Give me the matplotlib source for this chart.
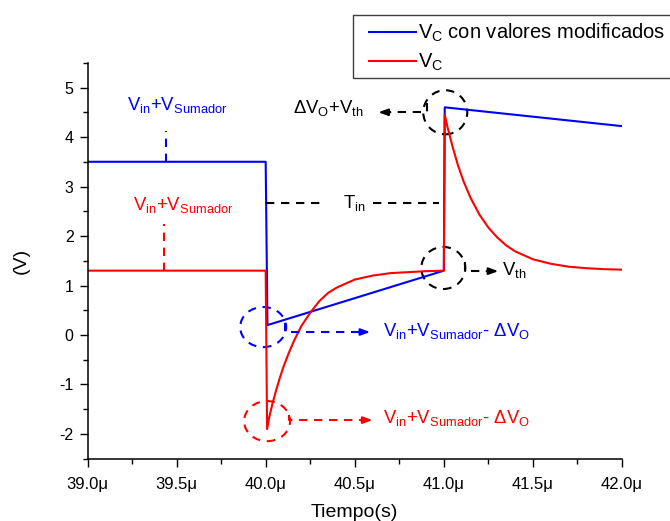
import matplotlib
matplotlib.use("Agg")
import matplotlib.pyplot as plt
from matplotlib.patches import Ellipse, Rectangle
from matplotlib.ticker import MultipleLocator, FuncFormatter

plt.rcParams["font.family"] = ["Liberation Sans", "DejaVu Sans"]
plt.rcParams["mathtext.fontset"] = "custom"
plt.rcParams["mathtext.rm"] = "Liberation Sans"
plt.rcParams["mathtext.it"] = "Liberation Sans"
plt.rcParams["mathtext.default"] = "regular"

# waveforms (time in microseconds, voltage in V)
blue_t = [39.0, 40.0, 40.01, 41.0, 41.005, 42.0]
blue_v = [3.5, 3.5, 0.2, 1.3, 4.6, 4.22]

red_t = [39.0, 40.0, 40.008, 40.02, 40.04, 40.06, 40.08, 40.10, 40.13, 40.16,
         40.20, 40.25, 40.30, 40.35, 40.40, 40.50, 40.60, 40.70, 40.80, 40.90,
         41.0, 41.005, 41.02, 41.05, 41.08, 41.11, 41.15, 41.20, 41.25, 41.30,
         41.35, 41.40, 41.50, 41.60, 41.70, 41.80, 41.90, 42.0]
red_v = [1.3, 1.3, -1.9, -1.66, -1.36, -1.10, -0.86, -0.64, -0.36, -0.11,
         0.18, 0.45, 0.68, 0.85, 0.96, 1.12, 1.20, 1.25, 1.27, 1.29,
         1.30, 4.45, 4.21, 3.79, 3.42, 3.11, 2.77, 2.43, 2.17, 1.97,
         1.81, 1.69, 1.53, 1.44, 1.38, 1.35, 1.33, 1.32]

series_labels = [r"$V_C$ con valores modificados", r"$V_C$"]
label_sum = r"$V_{in}$+$V_{Sumador}$"
label_sum_dv = r"$V_{in}$+$V_{Sumador}$- Δ$V_O$"
label_peak = r"Δ$V_O$+$V_{th}$"
label_vth = r"$V_{th}$"
label_tin = r"$T_{in}$"

BLUE = "#0000ff"
RED = "#ff0000"
DASH = (0, (4, 3.2))

fig = plt.figure(figsize=(6.7, 5.21), dpi=100)
ax = fig.add_axes([0.1306, 0.1195, 0.7978, 0.7600])

ax.plot(blue_t, blue_v, color=BLUE, lw=1.5, label=series_labels[0])
ax.plot(red_t, red_v, color=RED, lw=1.5, label=series_labels[1])

ax.set_xlim(39.0, 42.0)
ax.set_ylim(-2.5, 5.5)
ax.xaxis.set_major_locator(MultipleLocator(0.5))
ax.xaxis.set_minor_locator(MultipleLocator(0.25))
ax.yaxis.set_major_locator(MultipleLocator(1))
ax.yaxis.set_minor_locator(MultipleLocator(0.5))
ax.xaxis.set_major_formatter(FuncFormatter(lambda v, p: f"{v:.1f}μ"))
ax.yaxis.set_major_formatter(FuncFormatter(lambda v, p: f"{v:.0f}"))
ax.tick_params(which="major", direction="out", length=6, width=1)
ax.tick_params(which="minor", direction="out", length=3.5, width=1)
ax.tick_params(axis="x", which="major", pad=7, labelsize=12)
ax.tick_params(axis="y", which="major", pad=4, labelsize=11.5)
for side in ("top", "right"):
    ax.spines[side].set_visible(False)
for side in ("left", "bottom"):
    ax.spines[side].set_linewidth(1.1)

ax.set_xlabel("Tiempo(s)", fontsize=14, labelpad=9)
ax.set_ylabel("(V)", fontsize=14, labelpad=21)

fs = 13.3


def dashed(xs, ys, color):
    ax.plot(xs, ys, color=color, lw=1.5, linestyle=DASH, clip_on=False)


def head(x0, x1, y, color):
    ax.annotate("", xy=(x1, y), xytext=(x0, y),
                arrowprops=dict(arrowstyle="-|>,head_length=0.55,head_width=0.2",
                                color=color, lw=1.5, shrinkA=0, shrinkB=0))


def ring(xc, yc, w, h, color):
    ax.add_patch(Ellipse((xc, yc), w, h, fill=False, edgecolor=color,
                         lw=1.5, linestyle=DASH))


# input level markers
dashed([39.44, 39.44], [3.5, 4.12], BLUE)
ax.text(39.222, 4.55, label_sum, color=BLUE, fontsize=fs, va="baseline")
dashed([39.43, 39.43], [1.3, 2.24], RED)
ax.text(39.256, 2.53, label_sum, color=RED, fontsize=fs, va="baseline")

# input period
dashed([40.0, 40.32], [2.67, 2.67], "black")
dashed([40.60, 40.97], [2.67, 2.67], "black")
ax.text(40.435, 2.57, label_tin, color="black", fontsize=fs, va="baseline")

# peak after the jump
ring(41.008, 4.50, 0.247, 0.89, "black")
dashed([40.907, 40.907, 40.66], [4.69, 4.50, 4.50], "black")
head(40.70, 40.632, 4.50, "black")
ax.text(40.154, 4.48, label_peak, color="black", fontsize=fs, va="baseline")

# threshold
ring(40.997, 1.354, 0.247, 0.85, "black")
dashed([41.12, 41.12, 41.27], [1.47, 1.29, 1.29], "black")
head(41.24, 41.306, 1.29, "black")
ax.text(41.329, 1.21, label_vth, color="black", fontsize=fs, va="baseline")

# minimum after the drop
ring(39.986, 0.16, 0.258, 0.81, BLUE)
dashed([40.11, 40.11, 40.55], [0.25, 0.06, 0.06], BLUE)
head(40.52, 40.587, 0.06, BLUE)
ax.text(40.66, -0.02, label_sum_dv, color=BLUE, fontsize=fs, va="baseline")

ring(40.008, -1.74, 0.258, 0.81, RED)
dashed([40.13, 40.13, 40.56], [-1.62, -1.72, -1.72], RED)
head(40.53, 40.60, -1.72, RED)
ax.text(40.66, -1.78, label_sum_dv, color=RED, fontsize=fs, va="baseline")

# legend: entries without frame, box drawn separately so it runs off the edge
W, H = 670.0, 521.0
fig.legend(loc="upper left", bbox_to_anchor=(369 / W, 1 - 22 / H),
           fontsize=14.5, frameon=False, handlelength=2.35,
           handletextpad=0.1, borderpad=0, labelspacing=0.36, borderaxespad=0)
fig.patches.append(Rectangle((353 / W, 1 - 78 / H), 340 / W, 63 / H,
                             transform=fig.transFigure, fill=False,
                             edgecolor="#404040", lw=1.0))

fig.savefig("out.png", dpi=100)
